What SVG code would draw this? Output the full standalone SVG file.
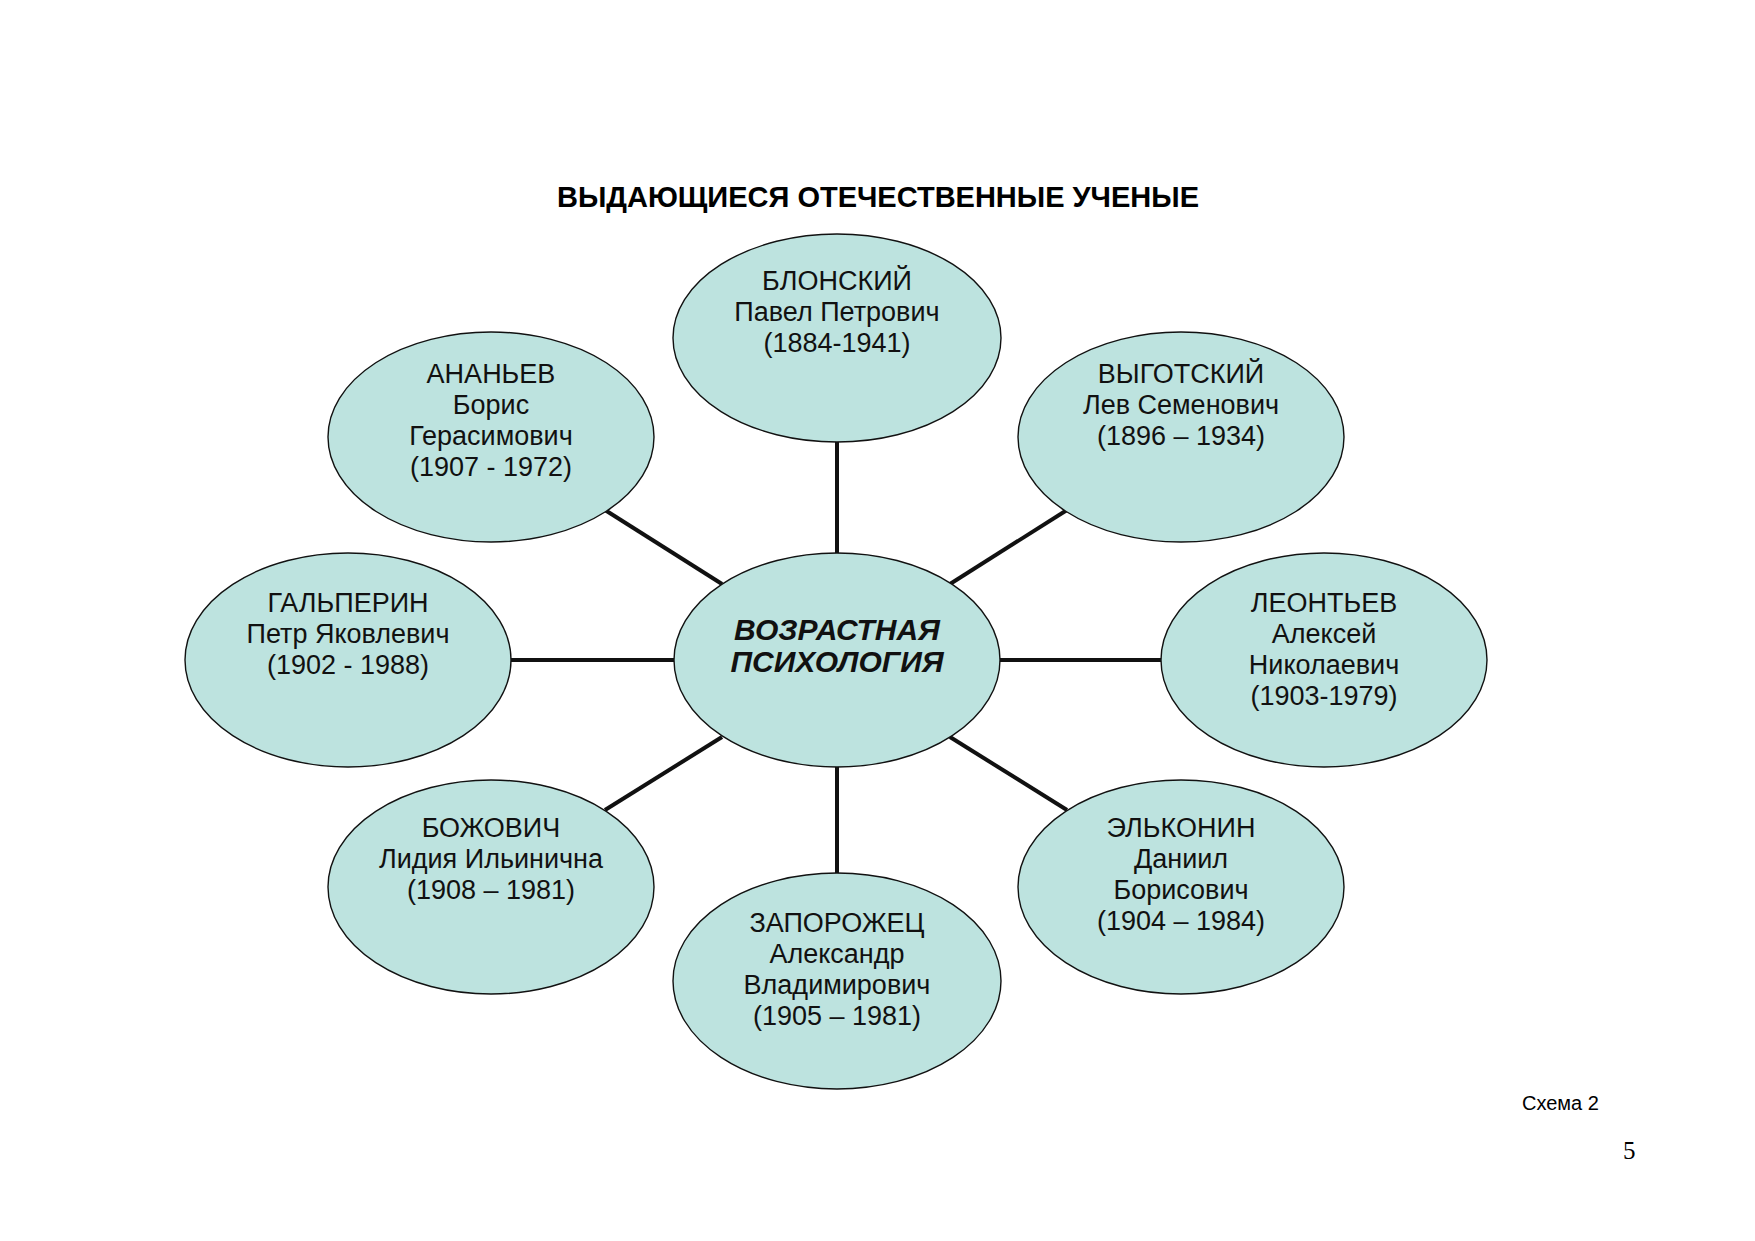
<svg xmlns="http://www.w3.org/2000/svg" width="1755" height="1241" viewBox="0 0 1755 1241">
<style>
.node ellipse{fill:#bde3df;stroke:#111;stroke-width:1.4}
.node text{font-family:"Liberation Sans",Arial,sans-serif;font-size:27px;fill:#111;text-anchor:middle}
#center text{font-weight:bold;font-style:italic;font-size:30px}
#connectors line{stroke:#111;stroke-width:4}
.title{font-family:"Liberation Sans",Arial,sans-serif;font-weight:bold;font-size:30px;fill:#000;text-anchor:middle}
</style>
<rect width="1755" height="1241" fill="#fff"/>
<text class="title" x="878" y="207" textLength="642" lengthAdjust="spacingAndGlyphs">ВЫДАЮЩИЕСЯ ОТЕЧЕСТВЕННЫЕ УЧЕНЫЕ</text>
<g id="connectors">
<line x1="837" y1="440" x2="837" y2="556"/>
<line x1="837" y1="764" x2="837" y2="876"/>
<line x1="510" y1="660" x2="678" y2="660"/>
<line x1="997" y1="660" x2="1162" y2="660"/>
<line x1="605" y1="510" x2="722" y2="584"/>
<line x1="1067" y1="510" x2="950" y2="584"/>
<line x1="605" y1="810" x2="722" y2="737"/>
<line x1="1067" y1="810" x2="950" y2="737"/>
</g>
<g id="center" class="node">
<ellipse cx="837" cy="660" rx="163" ry="107"/>
<text x="837" y="640">ВОЗРАСТНАЯ</text>
<text x="837" y="672">ПСИХОЛОГИЯ</text>
</g>
<g id="blonsky" class="node">
<ellipse cx="837" cy="338" rx="164" ry="104"/>
<text x="837" y="290">БЛОНСКИЙ</text>
<text x="837" y="321">Павел Петрович</text>
<text x="837" y="352">(1884-1941)</text>
</g>
<g id="ananyev" class="node">
<ellipse cx="491" cy="437" rx="163" ry="105"/>
<text x="491" y="383">АНАНЬЕВ</text>
<text x="491" y="414">Борис</text>
<text x="491" y="445">Герасимович</text>
<text x="491" y="476">(1907 - 1972)</text>
</g>
<g id="vygotsky" class="node">
<ellipse cx="1181" cy="437" rx="163" ry="105"/>
<text x="1181" y="383">ВЫГОТСКИЙ</text>
<text x="1181" y="414">Лев Семенович</text>
<text x="1181" y="445">(1896 – 1934)</text>
</g>
<g id="galperin" class="node">
<ellipse cx="348" cy="660" rx="163" ry="107"/>
<text x="348" y="612">ГАЛЬПЕРИН</text>
<text x="348" y="643">Петр Яковлевич</text>
<text x="348" y="674">(1902 - 1988)</text>
</g>
<g id="leontyev" class="node">
<ellipse cx="1324" cy="660" rx="163" ry="107"/>
<text x="1324" y="612">ЛЕОНТЬЕВ</text>
<text x="1324" y="643">Алексей</text>
<text x="1324" y="674">Николаевич</text>
<text x="1324" y="705">(1903-1979)</text>
</g>
<g id="bozhovich" class="node">
<ellipse cx="491" cy="887" rx="163" ry="107"/>
<text x="491" y="837">БОЖОВИЧ</text>
<text x="491" y="868">Лидия Ильинична</text>
<text x="491" y="899">(1908 – 1981)</text>
</g>
<g id="elkonin" class="node">
<ellipse cx="1181" cy="887" rx="163" ry="107"/>
<text x="1181" y="837">ЭЛЬКОНИН</text>
<text x="1181" y="868">Даниил</text>
<text x="1181" y="899">Борисович</text>
<text x="1181" y="930">(1904 – 1984)</text>
</g>
<g id="zaporozhets" class="node">
<ellipse cx="837" cy="981" rx="164" ry="108"/>
<text x="837" y="932">ЗАПОРОЖЕЦ</text>
<text x="837" y="963">Александр</text>
<text x="837" y="994">Владимирович</text>
<text x="837" y="1025">(1905 – 1981)</text>
</g>
<text x="1522" y="1110" font-family="Liberation Sans, Arial, sans-serif" font-size="20" fill="#000">Схема 2</text>
<text x="1623" y="1159" font-family="Liberation Serif, Times New Roman, serif" font-size="25" fill="#000">5</text>
</svg>
